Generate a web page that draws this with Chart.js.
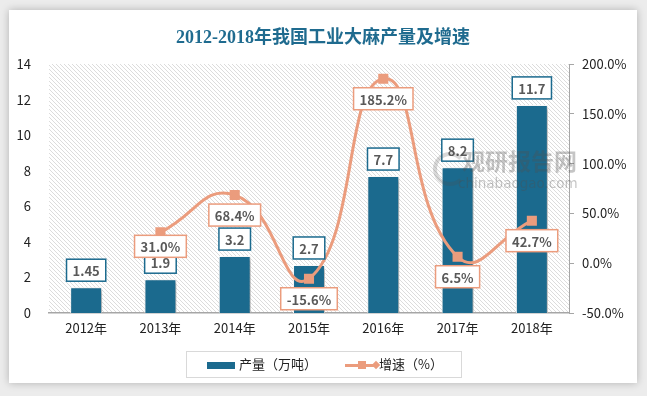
<!DOCTYPE html>
<html>
<head>
<meta charset="utf-8">
<script src="https://cdn.jsdelivr.net/npm/chart.js@4.4.0/dist/chart.umd.min.js"></script>
<style>
  html, body { margin: 0; padding: 0; }
  body { width: 647px; height: 396px; background: #ececec; position: relative; overflow: hidden; font-family: "Noto Sans CJK SC", sans-serif; }
  #card { position: absolute; left: 9px; top: 10px; width: 628px; height: 373px; background: #fff; box-shadow: 0 0 8px rgba(0,0,0,0.25); }
  #title { position: absolute; left: 0; top: 12px; width: 628px; text-align: center; font-family: "Liberation Serif", "Noto Sans CJK SC", serif; font-weight: bold; font-size: 18px; color: #1f6b8f; }
  #chart { position: absolute; left: 0; top: 0; }
  #legend { position: absolute; left: 177px; top: 341px; width: 274px; height: 25px; border: 1px solid #d9d9d9; font-size: 13px; color: #222; }
  .item { position: absolute; top: 3px; line-height: 18px; }
  #mark { position: absolute; left: 453px; top: 133px; color: rgba(80,80,80,0.33); font-weight: bold; font-size: 23px; }
  #mark2 { position: absolute; left: 449px; top: 165px; color: rgba(80,80,80,0.33); font-family: "DejaVu Sans", sans-serif; font-size: 13.5px; }
  #logo { position: absolute; left: 424px; top: 142px; width: 26px; height: 26px; border-radius: 50%; border: 4px solid rgba(80,80,80,0.22); border-right-color: transparent; }
</style>
</head>
<body>
<div id="card">
  <canvas id="chart" width="628" height="373"></canvas>
  <div id="title">2012-2018年我国工业大麻产量及增速</div>
  <div id="logo"></div>
  <div id="mark">观研报告网</div>
  <div id="mark2">chinabaogao.com</div>
  <div id="legend">
    <div style="position:absolute;left:20px;top:10px;width:28px;height:7px;background:#1b6a8e"></div>
    <div class="item" style="left:52px">产量（万吨）</div>
    <div style="position:absolute;left:158px;top:12px;width:30px;height:3px;background:#eb9c7d"></div>
    <div style="position:absolute;left:171px;top:9px;width:8px;height:8px;background:#eb9c7d"></div>
    <div style="position:absolute;left:186px;top:10px;width:6px;height:6px;background:#eb9c7d;transform:rotate(45deg)"></div>
    <div class="item" style="left:192px">增速（%）</div>
  </div>
</div>
<script>
const years = ["2012年", "2013年", "2014年", "2015年", "2016年", "2017年", "2018年"];
const output = [1.45, 1.9, 3.2, 2.7, 7.7, 8.2, 11.7];
const outputLabels = ["1.45", "1.9", "3.2", "2.7", "7.7", "8.2", "11.7"];
const growth = [null, 31.0, 68.4, -15.6, 185.2, 6.5, 42.7];

const blue = "#1b6a8e";
const orange = "#eb9c7d";

// hatched background inside plot area
const hatchPlugin = {
  id: "hatch",
  beforeDraw(chart) {
    const a = chart.chartArea;
    const ctx = chart.ctx;
    ctx.save();
    ctx.beginPath();
    ctx.rect(a.left, a.top, a.right - a.left, a.bottom - a.top);
    ctx.clip();
    ctx.strokeStyle = "#dcdcdc";
    ctx.lineWidth = 1;
    for (let x = a.left - (a.bottom - a.top); x < a.right; x += 4) {
      ctx.beginPath();
      ctx.moveTo(x, a.top);
      ctx.lineTo(x + (a.bottom - a.top), a.bottom);
      ctx.stroke();
    }
    ctx.restore();
  }
};

// shadow under the bars
const shadowPlugin = {
  id: "barShadow",
  beforeDatasetDraw(chart, args) {
    if (args.index === 1) {
      chart.ctx.save();
      chart.ctx.shadowColor = "rgba(0,0,0,0.35)";
      chart.ctx.shadowBlur = 4;
      chart.ctx.shadowOffsetX = 2;
      chart.ctx.shadowOffsetY = 2;
    }
  },
  afterDatasetDraw(chart, args) {
    if (args.index === 1) chart.ctx.restore();
  }
};

function drawBox(ctx, text, x, y, color) {
  ctx.font = "bold 13px 'Noto Sans CJK SC', sans-serif";
  const w = ctx.measureText(text).width + 12;
  const h = 22;
  ctx.fillStyle = "#fff";
  ctx.fillRect(x - w / 2, y - h / 2, w, h);
  ctx.strokeStyle = color;
  ctx.lineWidth = 1.5;
  ctx.strokeRect(x - w / 2, y - h / 2, w, h);
  ctx.fillStyle = "#595959";
  ctx.textAlign = "center";
  ctx.textBaseline = "middle";
  ctx.fillText(text, x, y + 1);
}

// data labels in boxes
const labelPlugin = {
  id: "boxLabels",
  afterDatasetsDraw(chart) {
    const ctx = chart.ctx;
    ctx.save();
    chart.getDatasetMeta(1).data.forEach((bar, i) => {
      drawBox(ctx, outputLabels[i], bar.x, bar.y - 17, blue);
    });
    chart.getDatasetMeta(0).data.forEach((pt, i) => {
      if (growth[i] === null) return;
      const off = i === 1 ? 14 : 20;
      drawBox(ctx, growth[i].toFixed(1) + "%", pt.x, pt.y + off, orange);
    });
    ctx.restore();
  }
};

new Chart(document.getElementById("chart").getContext("2d"), {
  data: {
    labels: years,
    datasets: [
      {
        type: "line",
        label: "增速（%）",
        data: growth,
        yAxisID: "y1",
        borderColor: orange,
        backgroundColor: orange,
        borderWidth: 3,
        pointStyle: "rect",
        pointRadius: 5,
        pointHoverRadius: 5,
        tension: 0.5,
        order: 0,
      },
      {
        type: "bar",
        label: "产量（万吨）",
        data: output,
        yAxisID: "y",
        backgroundColor: blue,
        borderColor: "#fff",
        borderWidth: 1,
        categoryPercentage: 1,
        barPercentage: 0.43,
        order: 1,
      },
    ],
  },
  options: {
    responsive: false,
    animation: false,
    events: [],
    layout: { padding: { top: 54, left: 0, right: 0, bottom: 0 } },
    plugins: {
      legend: { display: false },
      tooltip: { enabled: false },
    },
    scales: {
      x: {
        grid: { display: false, drawTicks: false },
        border: { color: "#a6a6a6", width: 1.5 },
        ticks: { color: "#222", font: { size: 13, family: "'Noto Sans CJK SC', sans-serif" }, padding: 7 },
        afterFit(scale) { scale.height = 70; },
      },
      y: {
        position: "left",
        min: 0,
        max: 14,
        ticks: { stepSize: 2, color: "#222", font: { size: 13, family: "'Noto Sans CJK SC', sans-serif" }, padding: 10 },
        grid: { display: false },
        border: { display: false },
        afterFit(scale) { scale.width = 40; },
      },
      y1: {
        position: "right",
        min: -50,
        max: 200,
        ticks: {
          stepSize: 50,
          color: "#222",
          font: { size: 13, family: "'Noto Sans CJK SC', sans-serif" },
          padding: 8,
          callback: (v) => v.toFixed(1) + "%",
        },
        grid: { drawOnChartArea: false, drawTicks: true, tickLength: 5, color: "#a6a6a6" },
        border: { color: "#a6a6a6", width: 1 },
        afterFit(scale) { scale.width = 68; },
      },
    },
  },
  plugins: [hatchPlugin, shadowPlugin, labelPlugin],
});
</script>
</body>
</html>
